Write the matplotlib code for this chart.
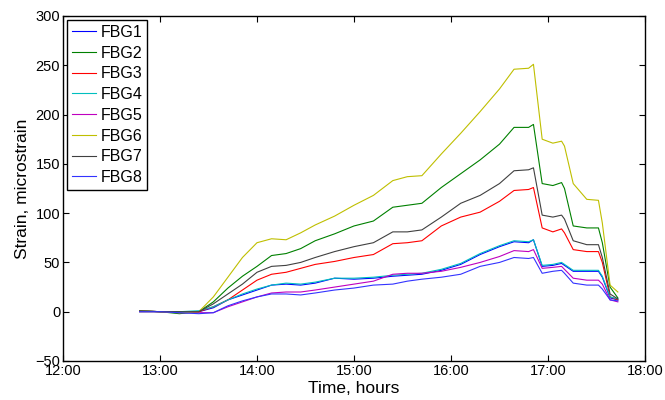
import matplotlib
matplotlib.use("Agg")
import matplotlib.pyplot as plt

# time in decimal hours
hours = [12.79, 13.0, 13.2, 13.4, 13.55, 13.7, 13.85, 14.0, 14.15, 14.3, 14.45, 14.6,
         14.8, 15.0, 15.2, 15.4, 15.55, 15.7, 15.9, 16.1, 16.3, 16.5, 16.65, 16.8,
         16.85, 16.94, 17.05, 17.14, 17.17, 17.26, 17.4, 17.52, 17.56, 17.64, 17.72]

fbg1 = [1, 0, 0, 0, 4, 12, 17, 22, 27, 28, 27, 29, 34, 33, 34, 36, 37, 38, 42, 48,
        58, 66, 71, 70, 73, 46, 47, 49, 47, 41, 41, 41, 35, 14, 12]
fbg2 = [0, 0, -2, 0, 10, 24, 36, 46, 57, 59, 64, 72, 79, 87, 92, 106, 108, 110, 126,
        140, 154, 170, 187, 187, 190, 130, 128, 131, 125, 87, 85, 85, 70, 25, 14]
fbg3 = [1, 0, 0, 0, 5, 12, 22, 32, 38, 40, 44, 48, 51, 55, 58, 69, 70, 72, 87, 96,
        101, 112, 123, 124, 126, 85, 81, 84, 80, 63, 61, 61, 50, 15, 12]
fbg4 = [1, 0, 0, 1, 5, 12, 18, 23, 27, 29, 28, 30, 34, 34, 35, 37, 38, 39, 43, 49,
        59, 67, 72, 71, 73, 47, 48, 50, 48, 42, 42, 42, 36, 15, 13]
fbg5 = [0, 0, -1, -1, -1, 5, 10, 15, 19, 20, 20, 22, 25, 28, 31, 38, 39, 39, 41, 45,
        50, 56, 62, 61, 63, 44, 45, 46, 43, 34, 32, 32, 28, 12, 10]
fbg6 = [1, 0, -1, 0, 15, 35, 55, 70, 74, 73, 80, 88, 97, 108, 118, 133, 137, 138, 160,
        181, 203, 226, 246, 247, 251, 175, 171, 173, 168, 130, 114, 113, 90, 27, 20]
fbg7 = [1, 0, 0, 0, 8, 18, 28, 40, 46, 47, 50, 55, 61, 66, 70, 81, 81, 83, 96, 110,
        118, 130, 143, 144, 146, 98, 96, 98, 94, 72, 68, 68, 55, 18, 13]
fbg8 = [0, 0, -1, -2, -1, 6, 11, 15, 18, 18, 17, 19, 22, 24, 27, 28, 31, 33, 35, 38,
        46, 50, 55, 54, 55, 39, 41, 42, 39, 29, 27, 27, 23, 12, 11]

series = [fbg1, fbg2, fbg3, fbg4, fbg5, fbg6, fbg7, fbg8]
names = ["FBG1", "FBG2", "FBG3", "FBG4", "FBG5", "FBG6", "FBG7", "FBG8"]
colors = ["#0000ff", "#008000", "#ff0000", "#00bfbf", "#bf00bf", "#bfbf00",
          "#404040", "#3333ff"]

tick_hours = [12, 13, 14, 15, 16, 17, 18]
tick_labels = ["12:00", "13:00", "14:00", "15:00", "16:00", "17:00", "18:00"]
y_ticks = [-50, 0, 50, 100, 150, 200, 250, 300]

plt.rcParams["font.family"] = ["Liberation Sans", "DejaVu Sans"]

fig = plt.figure(figsize=(6.65, 4.0), dpi=100)
ax = fig.add_axes([63 / 665, 1 - 361 / 400, 582 / 665, 345 / 400])

for vals, name, color in zip(series, names, colors):
    ax.plot(hours, vals, color=color, linewidth=0.8, label=name)

ax.set_xlim(12, 18)
ax.set_ylim(-50, 300)
ax.set_xticks(tick_hours)
ax.set_xticklabels(tick_labels)
ax.set_yticks(y_ticks)
ax.tick_params(direction="in", top=True, right=True, length=4, width=0.8,
               labelsize=10.5, pad=2)
for side in ax.spines.values():
    side.set_linewidth(1.0)

ax.set_xlabel("Time, hours", fontsize=12.5, labelpad=2)
ax.set_ylabel("Strain, microstrain", fontsize=12.5, labelpad=4)

leg = ax.legend(loc="upper left", fontsize=11.5, frameon=True, fancybox=False,
                handlelength=1.5, handletextpad=0.3, labelspacing=0.36,
                borderpad=0.3, borderaxespad=0.25)
leg.get_frame().set_edgecolor("black")
leg.get_frame().set_linewidth(1.0)
leg.get_frame().set_alpha(1)

fig.savefig("out.png", dpi=100)
